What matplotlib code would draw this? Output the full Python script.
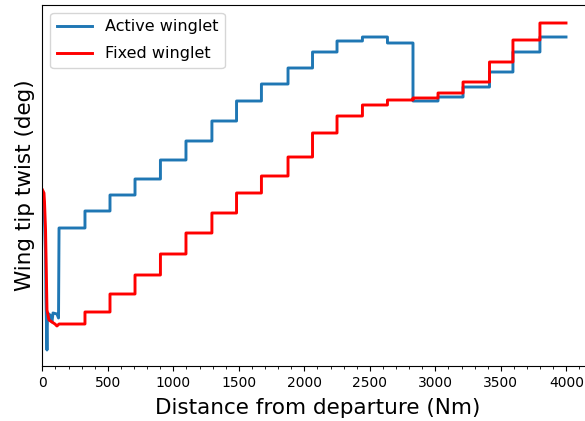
import numpy as np
import matplotlib
matplotlib.use("Agg")
import matplotlib.pyplot as plt
from matplotlib.ticker import AutoMinorLocator

# Step boundaries (Nm) shared by both schedules
step_edges = [127, 325, 516, 707, 901, 1096, 1294, 1482, 1672, 1875, 2062,
              2249, 2443, 2634, 2829, 3020, 3211, 3413, 3592, 3798, 3997]

# Initial transient (climb-out) samples
active_start_dist = [1, 12, 24, 27, 35, 39, 58, 73, 81, 111, 123]
active_start_twist = [1.90, 1.35, -1.15, -3.35, -6.00, -4.15, -4.25, -4.60,
                      -4.15, -4.20, -4.40]
fixed_start_dist = [1, 12, 16, 24, 35, 50, 73, 96, 111]
fixed_start_twist = [2.00, 1.85, 1.40, 0.00, -4.00, -4.50, -4.60, -4.70, -4.80]

# Twist level held over each step
active_levels = [0.10, 0.95, 1.75, 2.55, 3.50, 4.45, 5.45, 6.45, 7.30, 8.10,
                 8.90, 9.45, 9.65, 9.35, 6.45, 6.65, 7.15, 7.90, 8.90, 9.65]
fixed_levels = [-4.70, -4.10, -3.20, -2.25, -1.20, -0.15, 0.85, 1.85, 2.70,
                3.65, 4.85, 5.70, 6.25, 6.50, 6.60, 6.85, 7.40, 8.40, 9.50,
                10.35]


def build(start_d, start_t, levels):
    xs = list(start_d)
    ys = list(start_t)
    for i, lvl in enumerate(levels):
        xs += [step_edges[i], step_edges[i + 1]]
        ys += [lvl, lvl]
    return np.array(xs), np.array(ys)


fig = plt.figure(figsize=(5.85, 4.21), dpi=100)
ax = fig.add_axes([42.4 / 585, 55 / 421, 0.9405, 361 / 421])

xa, ya = build(active_start_dist, active_start_twist, active_levels)
xf, yf = build(fixed_start_dist, fixed_start_twist, fixed_levels)
ax.plot(xa, ya, color="#1f77b4", lw=2.1, label="Active winglet")
ax.plot(xf, yf, color="red", lw=2.1, label="Fixed winglet")

ax.set_xlim(0, 4200)
ax.set_ylim(-6.8, 11.25)
ax.set_xticks(np.arange(0, 4001, 500))
ax.xaxis.set_minor_locator(AutoMinorLocator(5))
ax.set_yticks([])
ax.tick_params(axis="x", labelsize=10)
ax.spines["right"].set_visible(False)

ax.set_xlabel("Distance from departure (Nm)", fontsize=15.5, labelpad=6)
ax.set_ylabel("Wing tip twist (deg)", fontsize=15.5, labelpad=5)
ax.legend(loc="upper left", fontsize=11.5, handlelength=2.2,
          labelspacing=0.75)

fig.savefig("out.png", dpi=100)
